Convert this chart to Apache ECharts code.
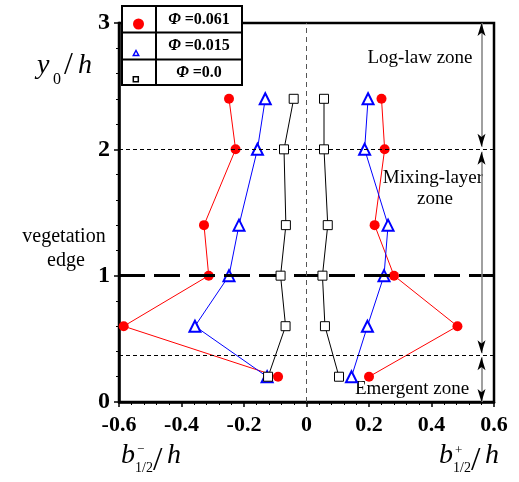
<!DOCTYPE html>
<html><head><meta charset="utf-8">
<script src="https://cdn.jsdelivr.net/npm/echarts@6/dist/echarts.min.js"></script>
<style>html,body{margin:0;padding:0;background:#fff}#c{width:519px;height:482px}</style>
</head><body><div id="c"></div>
<script>
const yLevels = [2.4, 2.0, 1.4, 1.0, 0.6, 0.2];
const redLeft = [-0.248, -0.227, -0.328, -0.313, -0.585, -0.091];
const redRight = [0.240, 0.250, 0.218, 0.280, 0.483, 0.200];
const blueLeft = [-0.132, -0.157, -0.216, -0.248, -0.357, -0.126];
const blueRight = [0.197, 0.186, 0.261, 0.248, 0.195, 0.144];
const blackLeft = [-0.041, -0.072, -0.066, -0.083, -0.067, -0.123];
const blackRight = [0.056, 0.056, 0.068, 0.051, 0.059, 0.104];
const legendNames = ['=0.061', '=0.015', '=0.0'];
const refLinesY = [2, 0.37];
const edgeY = 1;
const zoneX = 0.56;
const zoneBounds = [[3, 2.02], [1.98, 0.385], [0.355, 0]];

const pairs = (xs) => xs.map((x, i) => [x, yLevels[i]]);
const serif = 'Liberation Serif, Times New Roman, serif';

const redStyle = {symbol: 'circle', symbolSize: 10, itemStyle: {color: '#ff0000'}, lineStyle: {color: '#ff0000', width: 1}};
const blueStyle = {symbol: 'triangle', symbolSize: 11, itemStyle: {color: '#fff', borderColor: '#0000ff', borderWidth: 2}, lineStyle: {color: '#0000ff', width: 1}};
const blackStyle = {symbol: 'rect', symbolSize: 9, itemStyle: {color: '#fff', borderColor: '#000', borderWidth: 1}, lineStyle: {color: '#000', width: 1}};

function mk(name, xs, st, z) {
  return Object.assign({type: 'line', name: name, data: pairs(xs), z: z, showAllSymbol: true}, st);
}

const chart = echarts.init(document.getElementById('c'));
const option = {
  animation: false,
  grid: {left: 119, top: 23, width: 375, height: 379, show: true, borderColor: '#000', borderWidth: 2.5, backgroundColor: 'transparent'},
  xAxis: {
    type: 'value', min: -0.6, max: 0.6, interval: 0.2,
    axisLine: {onZero: false, lineStyle: {color: '#000', width: 2.5}},
    axisTick: {show: true, length: 5, lineStyle: {color: '#000', width: 1.5}},
    minorTick: {show: true, splitNumber: 5, length: 3, lineStyle: {color: '#000', width: 1}},
    splitLine: {show: false},
    axisLabel: {color: '#000', fontFamily: serif, fontWeight: 'bold', fontSize: 22, margin: 12,
      formatter: v => Math.abs(v) < 1e-9 ? '0' : v.toFixed(1)}
  },
  yAxis: {
    type: 'value', min: 0, max: 3, interval: 1,
    axisLine: {onZero: false, lineStyle: {color: '#000', width: 2.5}},
    axisTick: {show: true, length: 5, lineStyle: {color: '#000', width: 1.5}},
    minorTick: {show: true, splitNumber: 5, length: 3, lineStyle: {color: '#000', width: 1}},
    splitLine: {show: false},
    axisLabel: {color: '#000', fontFamily: serif, fontWeight: 'bold', fontSize: 24, margin: 9}
  },
  series: [
    {type: 'line', data: [], z: 1, silent: true,
      markLine: {silent: true, symbol: 'none', label: {show: false}, animation: false,
        data: [
          ...refLinesY.map(y => ({yAxis: y, lineStyle: {type: [4, 3], width: 1, color: '#000'}})),
          {yAxis: edgeY, lineStyle: {type: [26, 9], width: 3, color: '#000'}},
          {xAxis: 0, lineStyle: {type: [5, 4], width: 1, color: '#555'}}
        ]}},
    {type: 'line', data: [], z: 1, silent: true,
      markLine: {silent: true, symbol: 'none', label: {show: false}, animation: false,
        lineStyle: {type: 'solid', width: 1.5, color: '#808080'},
        data: zoneBounds.map(b => [{coord: [zoneX, b[0]]}, {coord: [zoneX, b[1]]}])}},
    {type: 'line', data: [], z: 2, silent: true,
      markLine: {silent: true, symbol: ['arrow', 'arrow'], symbolSize: [6, 13], label: {show: false}, animation: false,
        lineStyle: {type: 'solid', width: 0, color: '#000'},
        data: zoneBounds.map(b => [{coord: [zoneX, b[0]]}, {coord: [zoneX, b[1]]}])}},
    mk('redL', redLeft, redStyle, 3),
    mk('redR', redRight, redStyle, 3),
    mk('blueL', blueLeft, blueStyle, 4),
    mk('blueR', blueRight, blueStyle, 4),
    mk('blackL', blackLeft, blackStyle, 5),
    mk('blackR', blackRight, blackStyle, 5)
  ],
  graphic: [
    // legend table
    {type: 'rect', shape: {x: 122, y: 6, width: 120, height: 79}, style: {fill: '#fff', stroke: '#000', lineWidth: 2}, z: 100},
    {type: 'line', shape: {x1: 122, y1: 32.5, x2: 242, y2: 32.5}, style: {stroke: '#000', lineWidth: 2}, z: 101},
    {type: 'line', shape: {x1: 122, y1: 59.5, x2: 242, y2: 59.5}, style: {stroke: '#000', lineWidth: 2}, z: 101},
    {type: 'line', shape: {x1: 156, y1: 6, x2: 156, y2: 85}, style: {stroke: '#000', lineWidth: 2}, z: 101},
    {type: 'circle', shape: {cx: 138.5, cy: 24, r: 5.5}, style: {fill: '#ff0000'}, z: 101},
    {type: 'polygon', shape: {points: [[133.3, 55.5], [138.7, 55.5], [136, 50.5]]}, style: {fill: '#fff', stroke: '#0000ff', lineWidth: 1.5}, z: 101},
    {type: 'rect', shape: {x: 133.3, y: 76.7, width: 5, height: 5}, style: {fill: '#fff', stroke: '#000', lineWidth: 1.5}, z: 101},
    ...legendNames.map((n, i) => ({type: 'text', z: 101, style: {
      x: 199, y: [19.5, 46, 72.5][i], text: '{p|Φ} {n|' + n + '}', align: 'center', verticalAlign: 'middle',
      rich: {p: {fontFamily: serif, fontStyle: 'italic', fontWeight: 'bold', fontSize: 16, fill: '#000'},
             n: {fontFamily: serif, fontWeight: 'bold', fontSize: 16, fill: '#000'}},
      font: 'bold 16px ' + serif, fill: '#000'}})),
    // y axis name
    {type: 'text', style: {x: 37, y: 66, text: 'y', font: 'italic 28px ' + serif, fill: '#000', verticalAlign: 'middle'}},
    {type: 'text', style: {x: 53, y: 80, text: '0', font: '16px ' + serif, fill: '#000', verticalAlign: 'middle'}},
    {type: 'text', style: {x: 64, y: 66, text: '/', font: '32px ' + serif, fill: '#000', verticalAlign: 'middle'}},
    {type: 'text', style: {x: 78, y: 66, text: 'h', font: 'italic 28px ' + serif, fill: '#000', verticalAlign: 'middle'}},
    // vegetation edge
    {type: 'text', style: {x: 64, y: 237, text: 'vegetation', font: '20px ' + serif, fill: '#000', align: 'center', verticalAlign: 'middle'}},
    {type: 'text', style: {x: 66, y: 261, text: 'edge', font: '20px ' + serif, fill: '#000', align: 'center', verticalAlign: 'middle'}},
    // zones
    {type: 'text', style: {x: 420, y: 58, text: 'Log-law zone', font: '19px ' + serif, fill: '#000', align: 'center', verticalAlign: 'middle'}},
    {type: 'text', style: {x: 433, y: 178, text: 'Mixing-layer', font: '19px ' + serif, fill: '#000', align: 'center', verticalAlign: 'middle'}},
    {type: 'text', style: {x: 435, y: 199, text: 'zone', font: '19px ' + serif, fill: '#000', align: 'center', verticalAlign: 'middle'}},
    {type: 'text', style: {x: 412, y: 389, text: 'Emergent zone', font: '19px ' + serif, fill: '#000', align: 'center', verticalAlign: 'middle'}},
    // x axis names: left
    {type: 'text', style: {x: 121, y: 456, text: 'b', font: 'italic 28px ' + serif, fill: '#000', verticalAlign: 'middle'}},
    {type: 'text', style: {x: 137, y: 450, text: '−', font: '13px ' + serif, fill: '#000', verticalAlign: 'middle'}},
    {type: 'text', style: {x: 135, y: 468, text: '1/2', font: '14px ' + serif, fill: '#000', verticalAlign: 'middle'}},
    {type: 'text', style: {x: 153, y: 461, text: '/', font: '34px ' + serif, fill: '#000', verticalAlign: 'middle'}},
    {type: 'text', style: {x: 167, y: 456, text: 'h', font: 'italic 28px ' + serif, fill: '#000', verticalAlign: 'middle'}},
    // right
    {type: 'text', style: {x: 439, y: 456, text: 'b', font: 'italic 28px ' + serif, fill: '#000', verticalAlign: 'middle'}},
    {type: 'text', style: {x: 455, y: 451, text: '+', font: '13px ' + serif, fill: '#000', verticalAlign: 'middle'}},
    {type: 'text', style: {x: 453, y: 468, text: '1/2', font: '14px ' + serif, fill: '#000', verticalAlign: 'middle'}},
    {type: 'text', style: {x: 471, y: 461, text: '/', font: '34px ' + serif, fill: '#000', verticalAlign: 'middle'}},
    {type: 'text', style: {x: 485, y: 456, text: 'h', font: 'italic 28px ' + serif, fill: '#000', verticalAlign: 'middle'}}
  ]
};
chart.setOption(option);
</script>
</body></html>
